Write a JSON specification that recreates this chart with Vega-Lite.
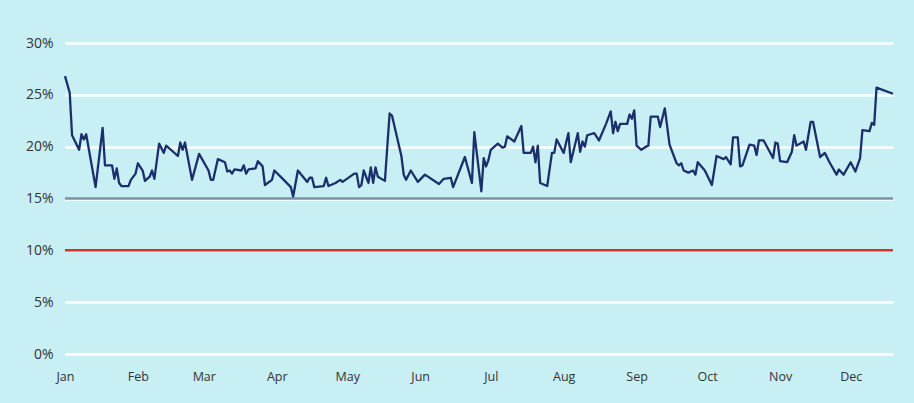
{
  "$schema": "https://vega.github.io/schema/vega-lite/v6.json",
  "width": 828,
  "height": 311,
  "autosize": {"type": "none"},
  "padding": {"left": 65, "top": 43, "right": 21, "bottom": 49},
  "background": "#c8eff4",
  "config": {
    "view": {"stroke": null},
    "font": "Open Sans",
    "axis": {"labelFont": "Open Sans", "labelColor": "#333333", "domain": false, "ticks": false}
  },
  "datasets": {
    "series": [
      {"date": "2023-01-01", "ratio": 26.8},
      {"date": "2023-01-03", "ratio": 25.2},
      {"date": "2023-01-04", "ratio": 21.1},
      {"date": "2023-01-07", "ratio": 19.7},
      {"date": "2023-01-08", "ratio": 21.2},
      {"date": "2023-01-09", "ratio": 20.7},
      {"date": "2023-01-10", "ratio": 21.2},
      {"date": "2023-01-14", "ratio": 16.1},
      {"date": "2023-01-17", "ratio": 21.8},
      {"date": "2023-01-18", "ratio": 18.2},
      {"date": "2023-01-21", "ratio": 18.2},
      {"date": "2023-01-22", "ratio": 16.9},
      {"date": "2023-01-23", "ratio": 17.9},
      {"date": "2023-01-24", "ratio": 16.5},
      {"date": "2023-01-25", "ratio": 16.2},
      {"date": "2023-01-28", "ratio": 16.2},
      {"date": "2023-01-29", "ratio": 16.8},
      {"date": "2023-01-31", "ratio": 17.4},
      {"date": "2023-02-01", "ratio": 18.4},
      {"date": "2023-02-03", "ratio": 17.7},
      {"date": "2023-02-04", "ratio": 16.7},
      {"date": "2023-02-06", "ratio": 17.1},
      {"date": "2023-02-07", "ratio": 17.7},
      {"date": "2023-02-08", "ratio": 16.9},
      {"date": "2023-02-10", "ratio": 20.3},
      {"date": "2023-02-12", "ratio": 19.4},
      {"date": "2023-02-13", "ratio": 20.1},
      {"date": "2023-02-18", "ratio": 19.1},
      {"date": "2023-02-19", "ratio": 20.4},
      {"date": "2023-02-20", "ratio": 19.7},
      {"date": "2023-02-21", "ratio": 20.4},
      {"date": "2023-02-24", "ratio": 16.8},
      {"date": "2023-02-27", "ratio": 19.3},
      {"date": "2023-03-03", "ratio": 17.7},
      {"date": "2023-03-04", "ratio": 16.8},
      {"date": "2023-03-05", "ratio": 16.8},
      {"date": "2023-03-07", "ratio": 18.8},
      {"date": "2023-03-10", "ratio": 18.5},
      {"date": "2023-03-11", "ratio": 17.6},
      {"date": "2023-03-12", "ratio": 17.7},
      {"date": "2023-03-13", "ratio": 17.4},
      {"date": "2023-03-14", "ratio": 17.8},
      {"date": "2023-03-17", "ratio": 17.7},
      {"date": "2023-03-18", "ratio": 18.2},
      {"date": "2023-03-19", "ratio": 17.4},
      {"date": "2023-03-20", "ratio": 17.8},
      {"date": "2023-03-23", "ratio": 17.9},
      {"date": "2023-03-24", "ratio": 18.6},
      {"date": "2023-03-26", "ratio": 18.1},
      {"date": "2023-03-27", "ratio": 16.3},
      {"date": "2023-03-30", "ratio": 16.8},
      {"date": "2023-03-31", "ratio": 17.7},
      {"date": "2023-04-04", "ratio": 16.8},
      {"date": "2023-04-07", "ratio": 16.1},
      {"date": "2023-04-08", "ratio": 15.2},
      {"date": "2023-04-10", "ratio": 17.7},
      {"date": "2023-04-14", "ratio": 16.6},
      {"date": "2023-04-15", "ratio": 17.0},
      {"date": "2023-04-16", "ratio": 17.0},
      {"date": "2023-04-17", "ratio": 16.1},
      {"date": "2023-04-21", "ratio": 16.2},
      {"date": "2023-04-22", "ratio": 17.0},
      {"date": "2023-04-23", "ratio": 16.2},
      {"date": "2023-04-26", "ratio": 16.5},
      {"date": "2023-04-28", "ratio": 16.8},
      {"date": "2023-04-29", "ratio": 16.6},
      {"date": "2023-05-04", "ratio": 17.4},
      {"date": "2023-05-05", "ratio": 17.4},
      {"date": "2023-05-06", "ratio": 16.1},
      {"date": "2023-05-07", "ratio": 16.3},
      {"date": "2023-05-08", "ratio": 17.7},
      {"date": "2023-05-10", "ratio": 16.5},
      {"date": "2023-05-11", "ratio": 18.0},
      {"date": "2023-05-12", "ratio": 16.5},
      {"date": "2023-05-13", "ratio": 18.0},
      {"date": "2023-05-14", "ratio": 17.1},
      {"date": "2023-05-17", "ratio": 16.7},
      {"date": "2023-05-19", "ratio": 23.2},
      {"date": "2023-05-20", "ratio": 23.0},
      {"date": "2023-05-24", "ratio": 19.1},
      {"date": "2023-05-25", "ratio": 17.3},
      {"date": "2023-05-26", "ratio": 16.8},
      {"date": "2023-05-28", "ratio": 17.7},
      {"date": "2023-05-31", "ratio": 16.6},
      {"date": "2023-06-03", "ratio": 17.3},
      {"date": "2023-06-09", "ratio": 16.4},
      {"date": "2023-06-11", "ratio": 16.9},
      {"date": "2023-06-14", "ratio": 17.0},
      {"date": "2023-06-15", "ratio": 16.1},
      {"date": "2023-06-20", "ratio": 19.0},
      {"date": "2023-06-23", "ratio": 16.5},
      {"date": "2023-06-24", "ratio": 21.4},
      {"date": "2023-06-27", "ratio": 15.7},
      {"date": "2023-06-28", "ratio": 18.9},
      {"date": "2023-06-29", "ratio": 18.1},
      {"date": "2023-06-30", "ratio": 18.7},
      {"date": "2023-07-01", "ratio": 19.7},
      {"date": "2023-07-04", "ratio": 20.3},
      {"date": "2023-07-06", "ratio": 19.9},
      {"date": "2023-07-07", "ratio": 20.0},
      {"date": "2023-07-08", "ratio": 21.0},
      {"date": "2023-07-11", "ratio": 20.5},
      {"date": "2023-07-14", "ratio": 22.0},
      {"date": "2023-07-15", "ratio": 19.4},
      {"date": "2023-07-18", "ratio": 19.4},
      {"date": "2023-07-19", "ratio": 20.0},
      {"date": "2023-07-20", "ratio": 18.5},
      {"date": "2023-07-21", "ratio": 20.1},
      {"date": "2023-07-22", "ratio": 16.5},
      {"date": "2023-07-25", "ratio": 16.2},
      {"date": "2023-07-27", "ratio": 19.4},
      {"date": "2023-07-28", "ratio": 19.4},
      {"date": "2023-07-29", "ratio": 20.7},
      {"date": "2023-08-01", "ratio": 19.4},
      {"date": "2023-08-03", "ratio": 21.3},
      {"date": "2023-08-04", "ratio": 18.5},
      {"date": "2023-08-07", "ratio": 21.3},
      {"date": "2023-08-08", "ratio": 19.5},
      {"date": "2023-08-09", "ratio": 20.5},
      {"date": "2023-08-10", "ratio": 20.0},
      {"date": "2023-08-11", "ratio": 21.1},
      {"date": "2023-08-14", "ratio": 21.3},
      {"date": "2023-08-16", "ratio": 20.6},
      {"date": "2023-08-19", "ratio": 22.2},
      {"date": "2023-08-21", "ratio": 23.4},
      {"date": "2023-08-22", "ratio": 21.3},
      {"date": "2023-08-23", "ratio": 22.4},
      {"date": "2023-08-24", "ratio": 21.5},
      {"date": "2023-08-25", "ratio": 22.2},
      {"date": "2023-08-28", "ratio": 22.2},
      {"date": "2023-08-29", "ratio": 23.1},
      {"date": "2023-08-30", "ratio": 22.7},
      {"date": "2023-08-31", "ratio": 23.5},
      {"date": "2023-09-01", "ratio": 20.1},
      {"date": "2023-09-03", "ratio": 19.7},
      {"date": "2023-09-05", "ratio": 20.0},
      {"date": "2023-09-06", "ratio": 20.1},
      {"date": "2023-09-07", "ratio": 22.9},
      {"date": "2023-09-10", "ratio": 22.9},
      {"date": "2023-09-11", "ratio": 21.9},
      {"date": "2023-09-13", "ratio": 23.7},
      {"date": "2023-09-15", "ratio": 20.2},
      {"date": "2023-09-18", "ratio": 18.4},
      {"date": "2023-09-19", "ratio": 18.2},
      {"date": "2023-09-20", "ratio": 18.4},
      {"date": "2023-09-21", "ratio": 17.7},
      {"date": "2023-09-23", "ratio": 17.5},
      {"date": "2023-09-25", "ratio": 17.7},
      {"date": "2023-09-26", "ratio": 17.3},
      {"date": "2023-09-27", "ratio": 18.5},
      {"date": "2023-09-30", "ratio": 17.7},
      {"date": "2023-10-03", "ratio": 16.3},
      {"date": "2023-10-05", "ratio": 19.1},
      {"date": "2023-10-08", "ratio": 18.8},
      {"date": "2023-10-09", "ratio": 19.0},
      {"date": "2023-10-11", "ratio": 18.3},
      {"date": "2023-10-12", "ratio": 20.9},
      {"date": "2023-10-14", "ratio": 20.9},
      {"date": "2023-10-15", "ratio": 18.1},
      {"date": "2023-10-16", "ratio": 18.2},
      {"date": "2023-10-19", "ratio": 20.2},
      {"date": "2023-10-21", "ratio": 20.1},
      {"date": "2023-10-22", "ratio": 19.2},
      {"date": "2023-10-23", "ratio": 20.6},
      {"date": "2023-10-25", "ratio": 20.6},
      {"date": "2023-10-29", "ratio": 18.9},
      {"date": "2023-10-30", "ratio": 20.4},
      {"date": "2023-10-31", "ratio": 20.3},
      {"date": "2023-11-01", "ratio": 18.6},
      {"date": "2023-11-04", "ratio": 18.5},
      {"date": "2023-11-06", "ratio": 19.5},
      {"date": "2023-11-07", "ratio": 21.1},
      {"date": "2023-11-08", "ratio": 20.1},
      {"date": "2023-11-11", "ratio": 20.5},
      {"date": "2023-11-12", "ratio": 19.7},
      {"date": "2023-11-14", "ratio": 22.4},
      {"date": "2023-11-15", "ratio": 22.4},
      {"date": "2023-11-18", "ratio": 19.0},
      {"date": "2023-11-20", "ratio": 19.4},
      {"date": "2023-11-22", "ratio": 18.5},
      {"date": "2023-11-25", "ratio": 17.3},
      {"date": "2023-11-26", "ratio": 17.8},
      {"date": "2023-11-28", "ratio": 17.3},
      {"date": "2023-12-01", "ratio": 18.5},
      {"date": "2023-12-03", "ratio": 17.6},
      {"date": "2023-12-05", "ratio": 18.9},
      {"date": "2023-12-06", "ratio": 21.6},
      {"date": "2023-12-09", "ratio": 21.5},
      {"date": "2023-12-10", "ratio": 22.3},
      {"date": "2023-12-11", "ratio": 22.1},
      {"date": "2023-12-12", "ratio": 25.7},
      {"date": "2023-12-19", "ratio": 25.1}
    ],
    "refs": [
      {"level": 15, "kind": "upper"},
      {"level": 10, "kind": "lower"}
    ]
  },
  "layer": [
    {
      "data": {"name": "refs"},
      "mark": {"type": "rule", "strokeWidth": 2.5},
      "encoding": {
        "y": {"field": "level", "type": "quantitative", "scale": {"domain": [0, 30]}},
        "color": {"field": "kind", "type": "nominal", "scale": {"domain": ["upper", "lower"], "range": ["#7b8fa8", "#d3302f"]}, "legend": null}
      }
    },
    {
      "data": {"name": "series"},
      "mark": {"type": "line", "color": "#1b2f6b", "strokeWidth": 2.3, "strokeJoin": "round"},
      "encoding": {
        "x": {
          "field": "date",
          "type": "temporal",
          "scale": {"type": "utc", "domain": [{"year": 2023, "month": 1, "date": 1, "utc": true}, {"year": 2023, "month": 12, "date": 19, "utc": true}]},
          "axis": {"title": null, "labelExpr": "utcFormat(datum.value, '%b')", "tickCount": "month", "grid": false, "labelFontSize": 12.5, "labelPadding": 16, "labelFlush": false}
        },
        "y": {
          "field": "ratio",
          "type": "quantitative",
          "scale": {"domain": [0, 30]},
          "axis": {"title": null, "values": [0, 5, 10, 15, 20, 25, 30], "labelExpr": "datum.value + '%'", "labelFontSize": 14, "labelPadding": 12, "gridColor": "#ffffff", "gridWidth": 2.5, "gridOpacity": 1}
        }
      }
    }
  ]
}
